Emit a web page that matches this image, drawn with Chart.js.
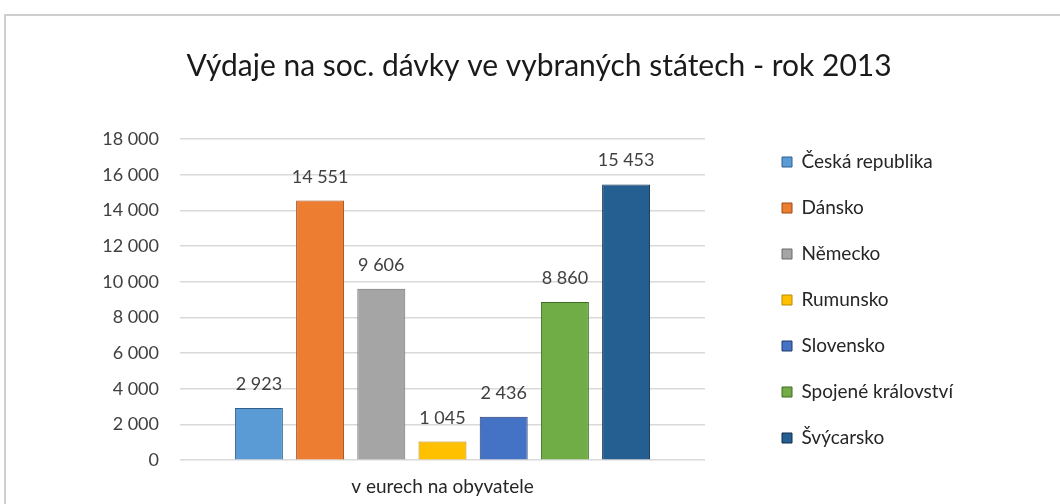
<!DOCTYPE html>
<html>
<head>
<meta charset="utf-8">
<script src="https://cdn.jsdelivr.net/npm/chart.js@4"></script>
<style>
  body { margin: 0; background: #fff; overflow: hidden; }
  #frame {
    position: absolute; left: 4px; top: 14px; width: 1070px; height: 520px;
    border-top: 2px solid #cfcfcf; border-left: 2px solid #cfcfcf; background: #fff;
  }
  #wrap { position: absolute; left: 0; top: 0; width: 1056px; height: 496px; }
</style>
</head>
<body>
<div id="frame"><div id="wrap"><canvas id="chart"></canvas></div></div>
<script>
const categories = ["v eurech na obyvatele"];
const countries = ["Česká republika", "Dánsko", "Německo", "Rumunsko", "Slovensko", "Spojené království", "Švýcarsko"];
const values = [2923, 14551, 9606, 1045, 2436, 8860, 15453];
const fillColors = ["#5B9BD5", "#ED7D31", "#A5A5A5", "#FFC000", "#4472C4", "#70AD47", "#255E91"];
const edgeColors = ["#2F5F8C", "#9C4A17", "#6B6B6B", "#B88A00", "#22396A", "#3E6B24", "#0E2C48"];
const yTicks = { min: 0, max: 18000, step: 2000 };

const FONT = "Lato, 'Open Sans', sans-serif";
const LEGEND_SIZE = 19;
const LEGEND_PAD = 27;
const PAD_LEFT = 90;
const PAD_RIGHT = 80;

function fmt(n) {
    return String(n).replace(/\B(?=(\d{3})+(?!\d))/g, " ");
}

// legend width, so the empty strip right of the legend keeps the title centred
const mctx = document.createElement("canvas").getContext("2d");
mctx.font = LEGEND_SIZE + "px " + FONT;
const longest = Math.max(...countries.map(c => mctx.measureText(c).width));
const legendWidth = LEGEND_PAD + 10 + LEGEND_SIZE / 2 + longest + 10;
const legendRight = 749 + legendWidth;
const tailWidth = Math.max(0, 1066 - PAD_LEFT - legendRight);

// value labels above each bar
const barLabels = {
    id: "barLabels",
    afterDatasetsDraw(chart) {
        const ctx = chart.ctx;
        ctx.save();
        ctx.font = "18px " + FONT;
        ctx.fillStyle = "#404040";
        ctx.textAlign = "center";
        ctx.textBaseline = "alphabetic";
        chart.data.datasets.forEach((ds, i) => {
            chart.getDatasetMeta(i).data.forEach((bar, j) => {
                ctx.fillText(fmt(ds.data[j]), bar.x, bar.y - 18);
            });
        });
        ctx.restore();
    }
};

const datasets = countries.map((name, i) => ({
    label: name,
    data: [values[i]],
    backgroundColor: fillColors[i],
    borderColor: edgeColors[i],
    borderWidth: 1,
    categoryPercentage: 0.816,
    barPercentage: 0.784
}));

const spacer = (width, weight) => ({
    type: "linear",
    position: "right",
    weight: weight,
    grid: { display: false },
    border: { display: false },
    ticks: { display: false },
    afterFit: s => { s.width = width; }
});

new Chart(document.getElementById("chart"), {
    type: "bar",
    data: { labels: categories, datasets: datasets },
    plugins: [barLabels],
    options: {
        responsive: true,
        maintainAspectRatio: false,
        animation: false,
        layout: { padding: { left: PAD_LEFT, right: PAD_RIGHT, top: 0, bottom: 7 } },
        plugins: {
            title: {
                display: true,
                text: "Výdaje na soc. dávky ve vybraných státech - rok 2013",
                color: "#1a1a1a",
                font: { family: FONT, size: 30, weight: "normal" },
                padding: { top: 32, bottom: 55 }
            },
            legend: {
                position: "right",
                maxWidth: 400,
                title: { display: true, text: "", font: { size: 10 }, padding: { top: 67, bottom: 0 } },
                labels: {
                    color: "#262626",
                    font: { family: FONT, size: LEGEND_SIZE },
                    boxWidth: 10,
                    boxHeight: 10,
                    padding: LEGEND_PAD
                }
            },
            tooltip: { enabled: false }
        },
        scales: {
            x: {
                grid: { display: false },
                border: { display: false },
                ticks: { color: "#262626", font: { family: FONT, size: 19 }, padding: 7 }
            },
            y: {
                min: yTicks.min,
                max: yTicks.max,
                grid: { color: "#d9d9d9", lineWidth: 1.5, drawTicks: false },
                border: { display: false },
                ticks: {
                    stepSize: yTicks.step,
                    color: "#404040",
                    font: { family: FONT, size: 18 },
                    padding: 21,
                    callback: v => fmt(v)
                },
                afterFit: s => { s.width = 174 - PAD_LEFT; }
            },
            // empty strips: one between plot and legend, one outside the legend
            gap: spacer(50, 0),
            tail: spacer(tailWidth, 1500)
        }
    }
});
</script>
</body>
</html>
